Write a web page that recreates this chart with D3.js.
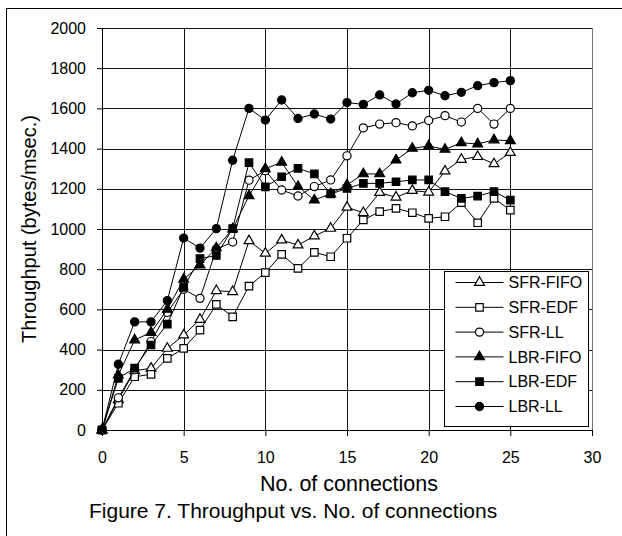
<!DOCTYPE html>
<html>
<head>
<meta charset="utf-8">
<script src="https://cdn.jsdelivr.net/npm/d3@7"></script>
<style>
  body { margin: 0; background: #fff; }
  text { font-family: "Liberation Sans", Arial, sans-serif; fill: #000; }
</style>
</head>
<body>
<div id="chart"></div>
<script>
(function() {

  // connections 0..25
  var connections = d3.range(0, 26);

  var seriesNames = ["SFR-FIFO", "SFR-EDF", "SFR-LL", "LBR-FIFO", "LBR-EDF", "LBR-LL"];

  var sfrFifo = [0, 150, 295, 307, 406, 472, 550, 693, 688, 941, 879, 945, 920, 965, 1003, 1108, 1081, 1181, 1158, 1191, 1183, 1288, 1346, 1360, 1324, 1380];
  var sfrEdf  = [0, 133, 265, 277, 356, 406, 497, 625, 563, 716, 783, 874, 804, 884, 862, 954, 1045, 1086, 1103, 1081, 1053, 1061, 1131, 1031, 1152, 1094];
  var sfrLl   = [0, 160, 300, 440, 585, 700, 655, 900, 935, 1243, 1290, 1194, 1164, 1211, 1244, 1364, 1503, 1522, 1529, 1513, 1540, 1564, 1532, 1600, 1522, 1600];
  var lbrFifo = [0, 273, 448, 485, 600, 750, 820, 906, 1000, 1165, 1300, 1332, 1211, 1144, 1175, 1219, 1274, 1274, 1343, 1401, 1413, 1396, 1429, 1423, 1443, 1439];
  var lbrEdf  = [0, 257, 308, 423, 527, 710, 853, 868, 1002, 1330, 1210, 1260, 1302, 1274, 1174, 1202, 1227, 1227, 1235, 1244, 1244, 1186, 1152, 1164, 1186, 1144];
  var lbrLl   = [0, 327, 538, 538, 644, 955, 905, 1002, 1342, 1600, 1542, 1642, 1550, 1572, 1547, 1629, 1620, 1667, 1622, 1678, 1690, 1663, 1680, 1713, 1728, 1738];

  var xTicks = [0, 5, 10, 15, 20, 25, 30];
  var yTicks = [0, 200, 400, 600, 800, 1000, 1200, 1400, 1600, 1800, 2000];

  var xTitle = "No. of connections",
      yTitle = "Throughput (bytes/msec.)",
      caption = "Figure 7. Throughput vs. No. of connections";

  var values = [sfrFifo, sfrEdf, sfrLl, lbrFifo, lbrEdf, lbrLl];
  var shapes = [d3.symbolTriangle, d3.symbolSquare, d3.symbolCircle, d3.symbolTriangle, d3.symbolSquare, d3.symbolCircle];
  var sizes  = [42, 56, 52, 42, 56, 52];
  var fills  = ["#fff", "#fff", "#fff", "#000", "#000", "#000"];

  var series = seriesNames.map(function(name, i) {
    return {
      name: name,
      shape: shapes[i], size: sizes[i], fill: fills[i],
      points: connections.map(function(c, j) { return { x: c, y: values[i][j] }; })
    };
  });

  var W = 622, H = 536;
  var margin = { top: 28, left: 102, right: 30, bottom: 106 },
      width = W - margin.left - margin.right,
      height = H - margin.top - margin.bottom;

  var svg = d3.select("#chart")
        .append("svg")
        .attr("width", W)
        .attr("height", H);

  // outer frame (only left/top fall inside the picture)
  svg.append("rect")
    .attr("x", 6.5).attr("y", 8.5)
    .attr("width", 700).attr("height", 700)
    .attr("fill", "none").attr("stroke", "#000");

  var g = svg.append("g")
        .attr("transform", "translate(" + margin.left + "," + margin.top + ")");

  var x = d3.scaleLinear().domain([0, 30]).range([0, width]);
  var y = d3.scaleLinear().domain([0, 2000]).range([height, 0]);

  // grid
  g.append("g").selectAll("line")
    .data(yTicks.slice(1))
    .enter().append("line")
    .attr("x1", 0).attr("x2", width)
    .attr("y1", function(d) { return Math.round(y(d)) + 0.5; })
    .attr("y2", function(d) { return Math.round(y(d)) + 0.5; })
    .attr("stroke", "#111");

  g.append("g").selectAll("line")
    .data(xTicks.slice(1))
    .enter().append("line")
    .attr("y1", 0).attr("y2", height)
    .attr("x1", function(d) { return Math.round(x(d)) + 0.5; })
    .attr("x2", function(d) { return Math.round(x(d)) + 0.5; })
    .attr("stroke", function(d) { return d === 30 ? "#777" : "#111"; });

  // axes
  var xAxis = g.append("g")
    .attr("transform", "translate(0," + height + ")")
    .call(d3.axisBottom(x).tickValues(xTicks).tickFormat(d3.format("d"))
      .tickSize(6).tickPadding(16).tickSizeOuter(0));

  var yAxis = g.append("g")
    .call(d3.axisLeft(y).tickValues(yTicks).tickFormat(d3.format("d"))
      .tickSize(5).tickPadding(11).tickSizeOuter(0));

  [xAxis, yAxis].forEach(function(a) {
    a.attr("font-family", null).attr("font-size", null);
    a.select(".domain").attr("stroke", "#000");
    a.selectAll(".tick line").attr("stroke", "#000");
    a.selectAll(".tick text").attr("font-size", "16px");
  });

  // lines + markers
  var line = d3.line()
    .x(function(d) { return x(d.x); })
    .y(function(d) { return y(d.y); });

  var sg = g.selectAll(".series")
    .data(series)
    .enter().append("g")
    .attr("class", "series");

  sg.append("path")
    .attr("d", function(d) { return line(d.points); })
    .attr("fill", "none")
    .attr("stroke", "#000")
    .attr("stroke-width", 1);

  sg.each(function(s) {
    d3.select(this).selectAll("path.mark")
      .data(s.points)
      .enter().append("path")
      .attr("class", "mark")
      .attr("transform", function(d) { return "translate(" + x(d.x) + "," + y(d.y) + ")"; })
      .attr("d", d3.symbol().type(s.shape).size(s.size))
      .attr("fill", s.fill)
      .attr("stroke", "#000")
      .attr("stroke-width", 1.2);
  });

  // legend
  var legend = svg.append("g").attr("transform", "translate(444.5,271.5)");
  legend.append("rect")
    .attr("width", 144).attr("height", 155)
    .attr("fill", "#fff").attr("stroke", "#000");

  var li = legend.selectAll(".item")
    .data(series)
    .enter().append("g")
    .attr("class", "item")
    .attr("transform", function(d, i) { return "translate(0," + (11 + i * 24.8) + ")"; });

  li.append("line")
    .attr("x1", 11).attr("x2", 59)
    .attr("stroke", "#000");
  li.append("path")
    .attr("transform", "translate(35,0)")
    .attr("d", function(d) { return d3.symbol().type(d.shape).size(d.size)(); })
    .attr("fill", function(d) { return d.fill; })
    .attr("stroke", "#000")
    .attr("stroke-width", 1.2);
  li.append("text")
    .attr("x", 64)
    .attr("dy", "0.36em")
    .attr("font-size", "16px")
    .text(function(d) { return d.name; });

  // titles
  svg.append("text")
    .attr("x", 349).attr("y", 491)
    .attr("text-anchor", "middle")
    .attr("font-size", "21.5px")
    .text(xTitle);

  svg.append("text")
    .attr("transform", "translate(36," + (margin.top + height / 2) + ") rotate(-90)")
    .attr("text-anchor", "middle")
    .attr("font-size", "20px")
    .text(yTitle);

  svg.append("text")
    .attr("x", 89).attr("y", 518)
    .attr("font-size", "21px")
    .text(caption);

})();
</script>
</body>
</html>
